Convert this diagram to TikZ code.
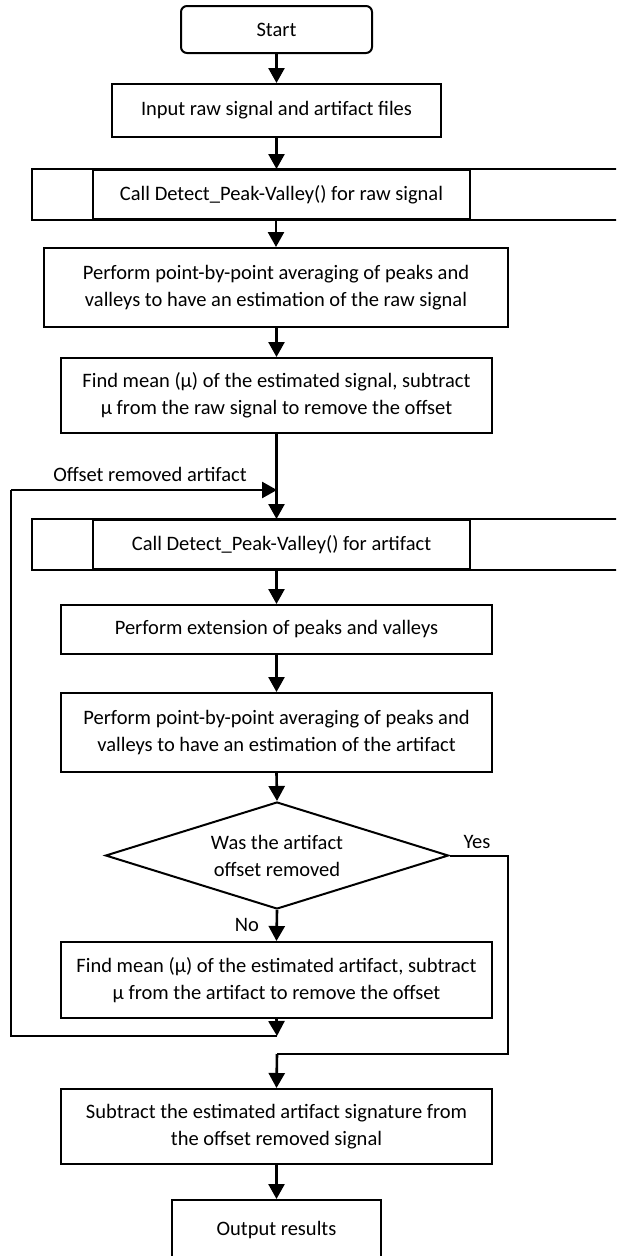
\documentclass[tikz,border=0pt]{standalone}
\usepackage{fontspec}
\setmainfont{Carlito}
\usetikzlibrary{shapes.geometric,arrows.meta}

\begin{document}
\begin{tikzpicture}[x=1pt,y=-1pt,
  txt/.style={font=\fontsize{20.5}{27}\selectfont},
  box/.style={txt,draw,line width=2pt,rectangle,inner sep=0pt,align=center},
  wide/.style={box,minimum width=431pt},
  startbox/.style={box,rounded corners=6pt,minimum width=191pt,minimum height=47pt},
  decision/.style={txt,draw,line width=2pt,diamond,aspect=3.2,inner sep=0pt,
                   minimum width=343pt,minimum height=107pt,align=center},
  arr/.style={line width=2.6pt,-{Triangle[width=16pt,length=15pt]}},
  loopline/.style={line width=2pt},
  loopend/.style={line width=2.6pt,-{Triangle[width=16pt,length=15pt]}}]

\path[use as bounding box] (0,0) rectangle (616,1256);
\clip (0,0) rectangle (616,1256);
\fill[white] (0,0) rectangle (616,1256);

% process steps along the main axis
\node[startbox] (start) at (276.5,29.5) {Start};
\node[box,minimum width=329pt,minimum height=53pt] (input) at (276.5,110.5)
  {Input raw signal and artifact files};
\node[box,minimum width=377pt,minimum height=49pt] (call1) at (281.5,194.5)
  {Call Detect\_Peak-Valley() for raw signal};
\draw[line width=2pt] ([xshift=-60pt]call1.north west) rectangle ([xshift=200pt]call1.south east);
\node[box,minimum width=464pt,minimum height=79pt] (avg1) at (276,287.5)
  {Perform point-by-point averaging of peaks and\\valleys to have an estimation of the raw signal};
\node[wide,minimum height=75pt] (mean1) at (276.5,395.5)
  {Find mean (µ) of the estimated signal, subtract\\µ from the raw signal to remove the offset};
\node[box,minimum width=377pt,minimum height=49pt] (call2) at (281.5,544.5)
  {Call Detect\_Peak-Valley() for artifact};
\draw[line width=2pt] ([xshift=-60pt]call2.north west) rectangle ([xshift=200pt]call2.south east);
\node[wide,minimum height=49pt] (ext) at (276.5,629.5)
  {Perform extension of peaks and valleys};
\node[wide,minimum height=79pt] (avg2) at (276.5,732.5)
  {Perform point-by-point averaging of peaks and\\valleys to have an estimation of the artifact};
\node[decision] (dia) at (277,855.5) {Was the artifact\\offset removed};
\node[wide,minimum height=76pt] (mean2) at (276.5,980)
  {Find mean (µ) of the estimated artifact, subtract\\µ from the artifact to remove the offset};
\node[wide,minimum height=75pt] (sub) at (276.5,1126.5)
  {Subtract the estimated artifact signature from\\the offset removed signal};
\node[box,minimum width=209pt,minimum height=62pt,text depth=0pt] (out) at (276.5,1231)
  {\raisebox{6pt}{Output results}};

% junction and loop points
\coordinate (merge) at (277,490);
\coordinate (back) at (277,1036);
\coordinate (backL) at (11,1036);
\coordinate (topL) at (11,490);
\coordinate (yesA) at (508,855.5);
\coordinate (yesB) at (508,1054);
\coordinate (yesC) at (277,1054);

% main flow
\draw[arr] (start.south -| input.north) -- (input.north);
\draw[arr] (input.south) -- (input.south |- call1.north);
\draw[arr] (call1.south -| avg1.north) -- (avg1.north);
\draw[arr] (avg1.south -| mean1.north) -- (mean1.north);
\draw[arr] (mean1.south) -- (mean1.south |- call2.north);
\draw[arr] (call2.south -| ext.north) -- (ext.north);
\draw[arr] (ext.south) -- (avg2.north);
\draw[arr] (avg2.south) -- (dia.north);
\draw[arr] (dia.south) -- (mean2.north);
\draw[arr] (sub.south) -- (out.north);

% loop back with the offset removed artifact
\draw[arr] (mean2.south) -- (back);
\draw[loopline] (back) -- (backL) -- (topL);
\draw[loopend] (topL) -- (merge);

% yes branch
\draw[loopline] (dia.east) -- (yesA) -- (yesB) -- (yesC);
\draw[arr] (yesC) -- (sub.north);

% labels
\node[txt] (lblloop) at (150,474) {Offset removed artifact};
\node[txt] (lblyes) at (477,842) {Yes};
\node[txt] (lblno) at (247,925) {No};
\end{tikzpicture}
\end{document}
